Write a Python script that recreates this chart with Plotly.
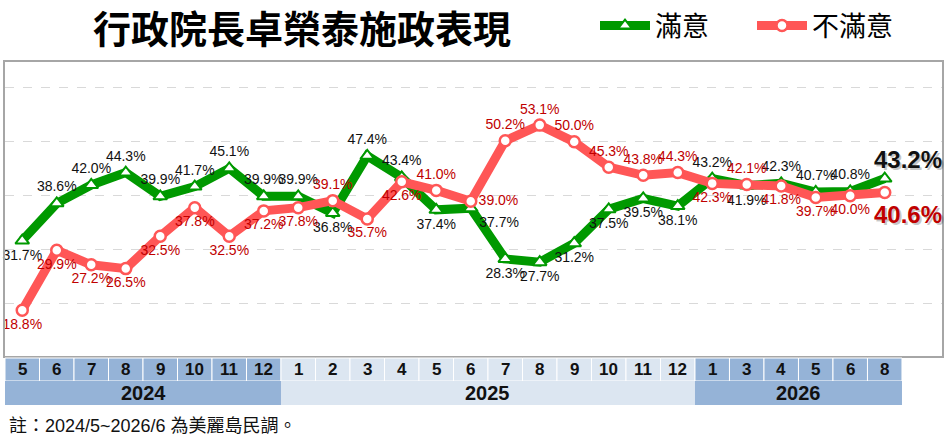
import plotly.graph_objects as go

# survey periods (one column per poll)
years = ['2024'] * 8 + ['2025'] * 12 + ['2026'] * 6
months = ['5', '6', '7', '8', '9', '10', '11', '12',
          '1', '2', '3', '4', '5', '6', '7', '8', '9', '10', '11', '12',
          '1', '3', '4', '5', '6', '8']

satisfied = [31.7, 38.6, 42.0, 44.3, 39.9, 41.7, 45.1, 39.9,
             39.9, 36.8, 47.4, 43.4, 37.4, 37.7, 28.3, 27.7, 31.2, 37.5, 39.5, 38.1,
             43.2, 41.9, 42.3, 40.7, 40.8, 43.2]
unsatisfied = [18.8, 29.9, 27.2, 26.5, 32.5, 37.8, 32.5, 37.2,
               37.8, 39.1, 35.7, 42.6, 41.0, 39.0, 50.2, 53.1, 50.0, 45.3, 43.8, 44.3,
               42.3, 42.1, 41.8, 39.7, 40.0, 40.6]

GREEN = '#009900'
RED = '#FF5656'
DARK_RED = '#C00000'
DARK_CELL = '#95B3D7'
LIGHT_CELL = '#DCE6F1'
LABEL_FONT = 'Liberation Sans, Arial'

x = list(range(len(months)))

# label placement per point (last one drawn bigger separately)
T, B = 'top center', 'bottom center'
green_pos = [B, T, T, T, T, T, T, T,
             T, B, T, T, B, 'bottom right', B, B, B, B, B, B,
             T, B, T, T, T, T]
red_pos = [B, B, B, B, B, B, B, B,
           B, T, B, B, T, 'middle right', T, T, T, T, T, T,
           B, T, B, B, B, B]


def fmt(vals):
    out = ['%.1f%%' % v for v in vals]
    out[-1] = ''
    return out


fig = go.Figure()
fig.add_trace(go.Scatter(x=x, y=satisfied, name='滿意', mode='lines+markers+text',
                         line=dict(color=GREEN, width=9),
                         marker=dict(symbol='triangle-up', size=12, color='white',
                                     line=dict(color=GREEN, width=2)),
                         text=fmt(satisfied), textposition=green_pos,
                         textfont=dict(family=LABEL_FONT, size=14, color='#111111'),
                         cliponaxis=False))
fig.add_trace(go.Scatter(x=x, y=unsatisfied, name='不滿意', mode='lines+markers+text',
                         line=dict(color=RED, width=9),
                         marker=dict(symbol='circle', size=11, color='white',
                                     line=dict(color=RED, width=2.5)),
                         text=fmt(unsatisfied), textposition=red_pos,
                         textfont=dict(family=LABEL_FONT, size=14, color=DARK_RED),
                         cliponaxis=False))

annotations = []
# latest values, big with a soft shadow
for vals, color, ys in [(satisfied, '#111111', 19), (unsatisfied, DARK_RED, -22)]:
    txt = '<b>%.1f%%</b>' % vals[-1]
    annotations.append(dict(x=x[-1], y=vals[-1], text=txt, showarrow=False,
                            xshift=25, yshift=ys - 2,
                            font=dict(family=LABEL_FONT, size=24, color='rgba(0,0,0,0.22)')))
    annotations.append(dict(x=x[-1], y=vals[-1], text=txt, showarrow=False,
                            xshift=23, yshift=ys,
                            font=dict(family=LABEL_FONT, size=24, color=color)))

# bottom table: month row and year row
shapes = []
plot_h = 440 - 62 - 84


def py(px):
    return (356 - px) / plot_h


for i in x:
    fill = LIGHT_CELL if years[i] == '2025' else DARK_CELL
    shapes.append(dict(type='rect', xref='x', yref='paper', x0=i - 0.5, x1=i + 0.5,
                       y0=py(381), y1=py(358), fillcolor=fill, line=dict(color='white', width=1)))
    annotations.append(dict(x=i, y=(py(381) + py(358)) / 2, xref='x', yref='paper',
                            yanchor='middle', text='<b>%s</b>' % months[i], showarrow=False,
                            font=dict(family=LABEL_FONT, size=17, color='#111111')))

spans = []
for i in x:
    if spans and spans[-1][0] == years[i]:
        spans[-1][2] = i
    else:
        spans.append([years[i], i, i])
for yr, a, b in spans:
    fill = LIGHT_CELL if yr == '2025' else DARK_CELL
    shapes.append(dict(type='rect', xref='x', yref='paper', x0=a - 0.5, x1=b + 0.5,
                       y0=py(405), y1=py(381), fillcolor=fill, line=dict(width=0)))
    annotations.append(dict(x=(a + b) / 2, y=(py(405) + py(381)) / 2, xref='x', yref='paper',
                            yanchor='middle', text='<b>%s</b>' % yr, showarrow=False,
                            font=dict(family=LABEL_FONT, size=20, color='#111111')))

# title and footnote
annotations.append(dict(x=(302 - 5) / 937, y=py(27), xref='paper', yref='paper',
                        xanchor='center', yanchor='middle',
                        text='<b>行政院長卓榮泰施政表現</b>', showarrow=False,
                        font=dict(family='Noto Sans CJK TC', size=38, color='black')))
annotations.append(dict(x=0.002, y=py(426), xref='paper', yref='paper',
                        xanchor='left', yanchor='middle',
                        text='註：2024/5~2026/6 為美麗島民調。', showarrow=False,
                        font=dict(family='Liberation Sans, Noto Sans CJK TC', size=18, color='#111111')))

fig.update_layout(
    width=948, height=440,
    margin=dict(l=5, r=6, t=62, b=84, autoexpand=False),
    plot_bgcolor='white', paper_bgcolor='white',
    showlegend=True,
    legend=dict(orientation='h', x=(595 - 5) / 937, y=py(26), yanchor='middle', xanchor='left',
                font=dict(family='Noto Sans CJK TC', size=27, color='black'),
                itemwidth=50, entrywidth=92, bgcolor='rgba(0,0,0,0)'),
    xaxis=dict(range=[-0.5, 26.66], showticklabels=False, showgrid=False, zeroline=False,
               showline=True, mirror=True, linecolor='#A6A6A6', linewidth=2),
    yaxis=dict(range=[10.3, 64.8], showticklabels=False, zeroline=False,
               tickvals=[20, 30, 40, 50, 60], showgrid=True, gridcolor='#D9D9D9',
               griddash='dash', gridwidth=1,
               showline=True, mirror=True, linecolor='#A6A6A6', linewidth=2),
    shapes=shapes,
    annotations=annotations,
)

fig.write_html('out.html', config={'displayModeBar': False},
               post_script="document.body.style.margin='0';")
